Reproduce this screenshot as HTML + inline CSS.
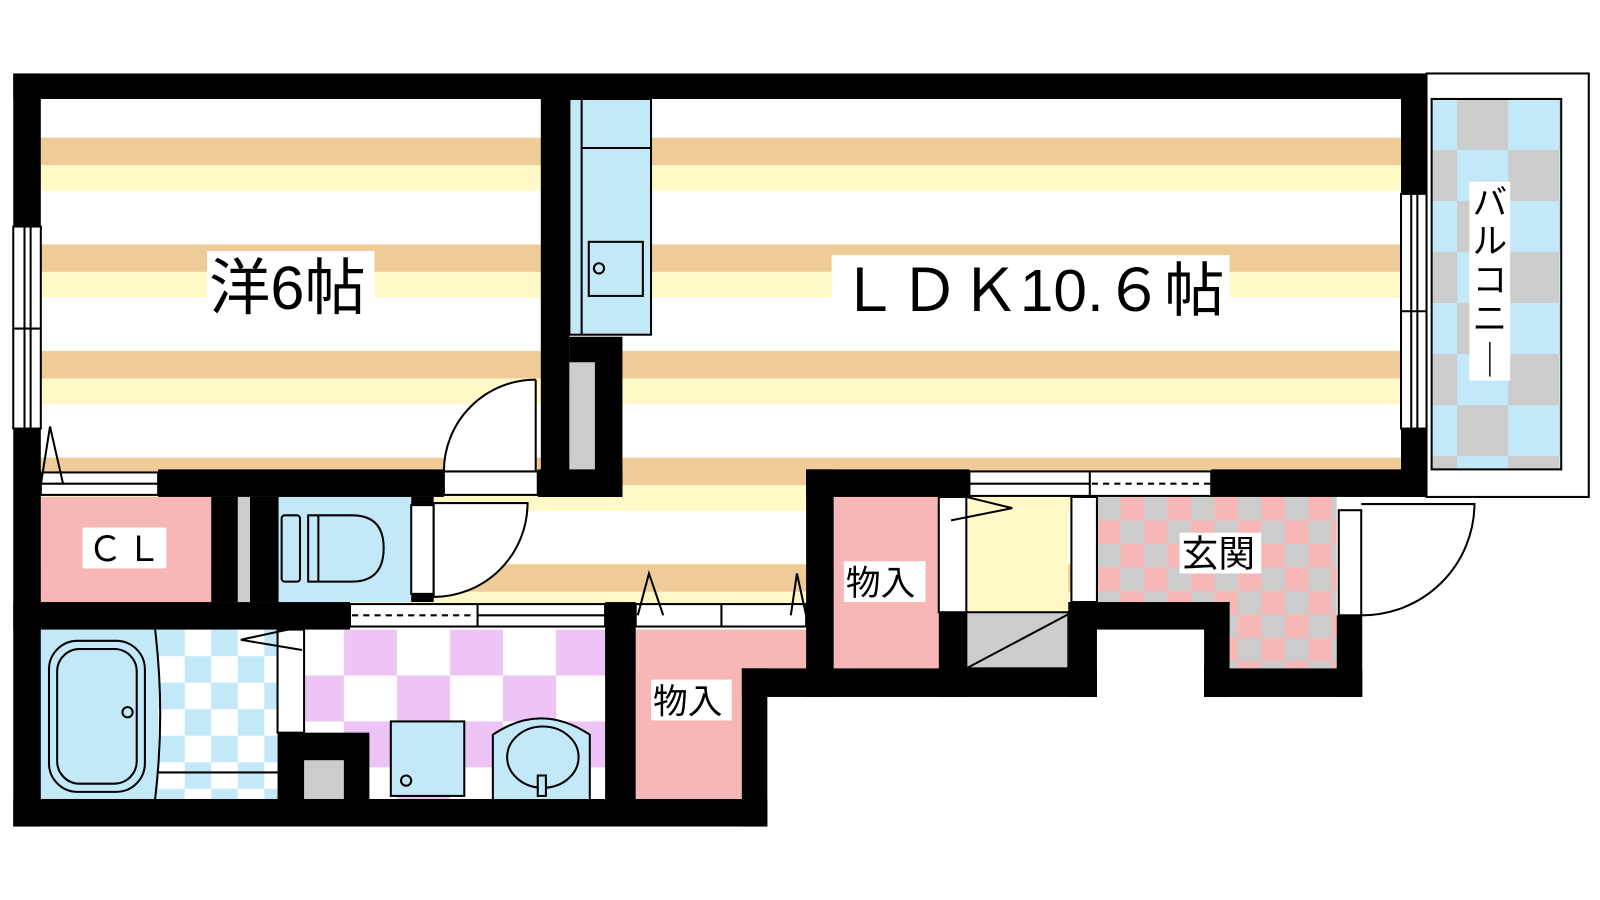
<!DOCTYPE html>
<html><head><meta charset="utf-8"><style>
html,body{margin:0;padding:0;background:#fff;}
svg{display:block}
text{font-family:"Liberation Sans","Noto Sans CJK JP",sans-serif;fill:#000}
</style></head><body>
<svg width="1600" height="900" viewBox="0 0 1568 882" preserveAspectRatio="none" xmlns="http://www.w3.org/2000/svg">
<defs>
<pattern id="stripe" x="0" y="135" width="10" height="104.5" patternUnits="userSpaceOnUse">
<rect width="10" height="104.5" fill="#fff"/>
<rect y="0" width="10" height="27" fill="#EFCB97"/>
<rect y="27" width="10" height="25" fill="#FFF9C8"/>
</pattern>
<pattern id="bathck" x="155" y="617" width="52" height="52" patternUnits="userSpaceOnUse">
<rect width="52" height="52" fill="#fff"/><rect width="26" height="26" fill="#C3E8F8"/><rect x="26" y="26" width="26" height="26" fill="#C3E8F8"/>
</pattern>
<pattern id="washck" x="285" y="617" width="104" height="90" patternUnits="userSpaceOnUse">
<rect width="104" height="90" fill="#fff"/><rect x="52" width="52" height="45" fill="#EEC3F5"/><rect y="45" width="52" height="45" fill="#EEC3F5"/>
</pattern>
<pattern id="genck" x="1075" y="487" width="46" height="46" patternUnits="userSpaceOnUse">
<rect width="46" height="46" fill="#F8B7B7"/><rect width="23" height="23" fill="#CCCCCC"/><rect x="23" y="23" width="23" height="23" fill="#CCCCCC"/>
</pattern>
<pattern id="balck" x="1403" y="97" width="100" height="100" patternUnits="userSpaceOnUse">
<rect width="100" height="100" fill="#C3E8F8"/><rect x="25" width="50" height="50" fill="#CCCCCC"/><rect x="75" y="50" width="25" height="50" fill="#CCCCCC"/><rect x="0" y="50" width="25" height="50" fill="#CCCCCC"/>
</pattern>
</defs>

<rect x="40" y="97" width="1335" height="500" fill="url(#stripe)"/>
<rect x="1310" y="487" width="90" height="125" fill="#fff"/>
<rect x="40" y="487" width="167" height="103" fill="#F8B7B7"/>
<rect x="273" y="487" width="130" height="103" fill="#C3E8F8"/>
<rect x="40" y="617" width="115" height="166" fill="#C3E8F8"/>
<rect x="155" y="617" width="117" height="166" fill="url(#bathck)"/>
<rect x="298" y="617" width="297" height="166" fill="url(#washck)"/>
<rect x="623" y="617" width="167" height="38" fill="#F8B7B7"/>
<rect x="623" y="617" width="104" height="166" fill="#F8B7B7"/>
<rect x="817" y="487" width="103" height="168" fill="#F8B7B7"/>
<rect x="947" y="487" width="100" height="113" fill="#FFF9C8"/>
<rect x="947" y="600" width="100" height="55" fill="#CCCCCC" stroke="#000" stroke-width="2"/>
<line x1="947" y1="655" x2="1047" y2="602" stroke="#000" stroke-width="2"/>
<rect x="1075" y="487" width="235" height="103" fill="url(#genck)"/>
<rect x="1205" y="590" width="105" height="65" fill="url(#genck)"/>

<rect x="1398" y="72" width="159" height="415" fill="#fff" stroke="#000" stroke-width="2"/>
<rect x="1403" y="97" width="127" height="363" fill="url(#balck)" stroke="#000" stroke-width="2"/>

<rect x="558" y="97" width="80" height="231" fill="#C3E8F8" stroke="#000" stroke-width="2"/>
<line x1="570" y1="97" x2="570" y2="328" stroke="#000" stroke-width="2"/>
<line x1="570" y1="145" x2="638" y2="145" stroke="#000" stroke-width="2"/>
<rect x="577" y="237" width="53" height="53" fill="none" stroke="#000" stroke-width="2"/>
<circle cx="587" cy="263" r="5" fill="none" stroke="#000" stroke-width="2"/>

<g fill="#000">
<rect x="13" y="72" width="1385" height="25"/>
<rect x="13" y="72" width="27" height="738"/>
<rect x="13" y="783" width="739" height="27"/>
<rect x="530" y="97" width="28" height="390"/>
<rect x="558" y="330" width="52" height="157"/>
<rect x="155" y="460" width="280" height="27"/>
<rect x="527" y="460" width="83" height="27"/>
<rect x="13" y="590" width="330" height="27"/>
<rect x="207" y="487" width="66" height="103"/>
<rect x="403" y="487" width="22" height="8"/>
<rect x="403" y="582" width="22" height="8"/>
<rect x="593" y="590" width="30" height="193"/>
<rect x="272" y="718" width="90" height="65"/>
<rect x="727" y="655" width="25" height="155"/>
<rect x="727" y="655" width="90" height="28"/>
<rect x="790" y="460" width="27" height="223"/>
<rect x="790" y="460" width="160" height="27"/>
<rect x="920" y="600" width="27" height="83"/>
<rect x="790" y="655" width="285" height="28"/>
<rect x="1047" y="590" width="28" height="93"/>
<rect x="1047" y="590" width="158" height="27"/>
<rect x="1180" y="590" width="25" height="93"/>
<rect x="1180" y="655" width="155" height="28"/>
<rect x="1310" y="603" width="25" height="80"/>
<rect x="1187" y="460" width="211" height="27"/>
<rect x="1373" y="72" width="25" height="118"/>
<rect x="1373" y="420" width="25" height="67"/>
</g>
<rect x="233" y="487" width="12" height="103" fill="#CCCCCC"/>
<rect x="558" y="355" width="25" height="105" fill="#CCCCCC"/>
<rect x="298" y="745" width="39" height="38" fill="#CCCCCC"/>

<g stroke="#000" stroke-width="2" fill="#fff">
<rect x="13" y="222" width="27" height="198"/>
<line x1="24" y1="222" x2="24" y2="420"/><line x1="30" y1="222" x2="30" y2="420"/>
<line x1="14" y1="322" x2="39" y2="322"/>
<rect x="1373" y="190" width="25" height="230"/>
<line x1="1383" y1="190" x2="1383" y2="420"/><line x1="1389" y1="190" x2="1389" y2="420"/>
<line x1="1374" y1="305" x2="1397" y2="305"/>
</g>

<g stroke="#000" stroke-width="2" fill="#fff">
<rect x="40" y="463" width="115" height="22"/>
<line x1="40" y1="474" x2="155" y2="474"/>
<path d="M40 475 L49 418 L62 475" fill="none"/>
<rect x="435" y="462" width="92" height="23"/>
<path d="M525 372 L525 462 L435 462 A90 90 0 0 1 525 372" fill="#fff"/>
<rect x="403" y="495" width="22" height="87"/>
<path d="M425 493 L517 493 A92 92 0 0 1 425 585 Z" fill="#fff"/>
<rect x="343" y="592" width="250" height="22"/>
<line x1="468" y1="592" x2="468" y2="614"/>
<line x1="468" y1="603" x2="593" y2="603"/>
<line x1="345" y1="603" x2="466" y2="603" stroke-dasharray="6 5"/>
<rect x="272" y="617" width="26" height="101"/>
<path d="M296 637 L236 627 L282 617" fill="none"/>
<rect x="623" y="592" width="167" height="22"/>
<line x1="707" y1="592" x2="707" y2="614"/>
<path d="M625 603 L636 562 L650 603 M775 603 L781 562 L790 603" fill="none"/>
<rect x="920" y="487" width="27" height="113"/>
<path d="M932 510 L992 498 L947 487" fill="none"/>
<rect x="1050" y="487" width="25" height="103"/>
<rect x="950" y="462" width="237" height="24"/>
<line x1="1068" y1="462" x2="1068" y2="486"/>
<line x1="950" y1="474" x2="1068" y2="474"/>
<line x1="1070" y1="474" x2="1187" y2="474" stroke-dasharray="6 5"/>
<rect x="1312" y="500" width="22" height="103"/>
<path d="M1334 494 L1445 494 A110 110 0 0 1 1334 603" fill="none"/>
</g>

<g stroke="#000" stroke-width="2" fill="#C3E8F8">
<rect x="48" y="628" width="94" height="148" rx="28"/>
<rect x="56" y="636" width="78" height="132" rx="22"/>
<circle cx="125" cy="698" r="5"/>
<line x1="155" y1="757" x2="272" y2="757"/>
<path d="M152 617 Q162 700 152 783" fill="none"/>
<rect x="383" y="707" width="72" height="73"/>
<circle cx="398" cy="765" r="5"/>
<path d="M483 783 L483 720 Q530 688 578 720 L578 783"/>
<ellipse cx="532" cy="742" rx="35" ry="30"/>
<rect x="527" y="760" width="8" height="20"/>
<rect x="276" y="505" width="18" height="65" rx="3"/>
<path d="M302 505 L345 505 Q376 505 376 537 Q376 570 345 570 L302 570 Z"/>
<line x1="312" y1="505" x2="312" y2="570"/>
</g>

<rect x="203" y="246" width="164" height="66" fill="#fff"/>
<text x="205" y="303" font-size="60">洋6帖</text>
<rect x="815" y="250" width="390" height="64" fill="#fff"/>
<text x="822" y="305" font-size="58" textLength="378" lengthAdjust="spacingAndGlyphs">ＬＤＫ10.６帖</text>
<rect x="81" y="517" width="82" height="40" fill="#fff"/>
<text x="86" y="550" font-size="34" textLength="72" lengthAdjust="spacing">ＣＬ</text>
<rect x="827" y="550" width="80" height="40" fill="#fff"/>
<text x="829" y="583" font-size="34">物入</text>
<rect x="638" y="666" width="79" height="40" fill="#fff"/>
<text x="640" y="699" font-size="34">物入</text>
<rect x="1156" y="522" width="80" height="40" fill="#fff"/>
<text x="1158" y="555" font-size="36">玄関</text>
<rect x="1440" y="178" width="40" height="195" fill="#fff"/>
<text font-size="34" x="1460" text-anchor="middle"><tspan x="1460" y="210">バ</tspan><tspan x="1460" y="248">ル</tspan><tspan x="1460" y="286">コ</tspan><tspan x="1460" y="324">ニ</tspan><tspan x="1460" y="365">｜</tspan></text>
</svg>
</body></html>
